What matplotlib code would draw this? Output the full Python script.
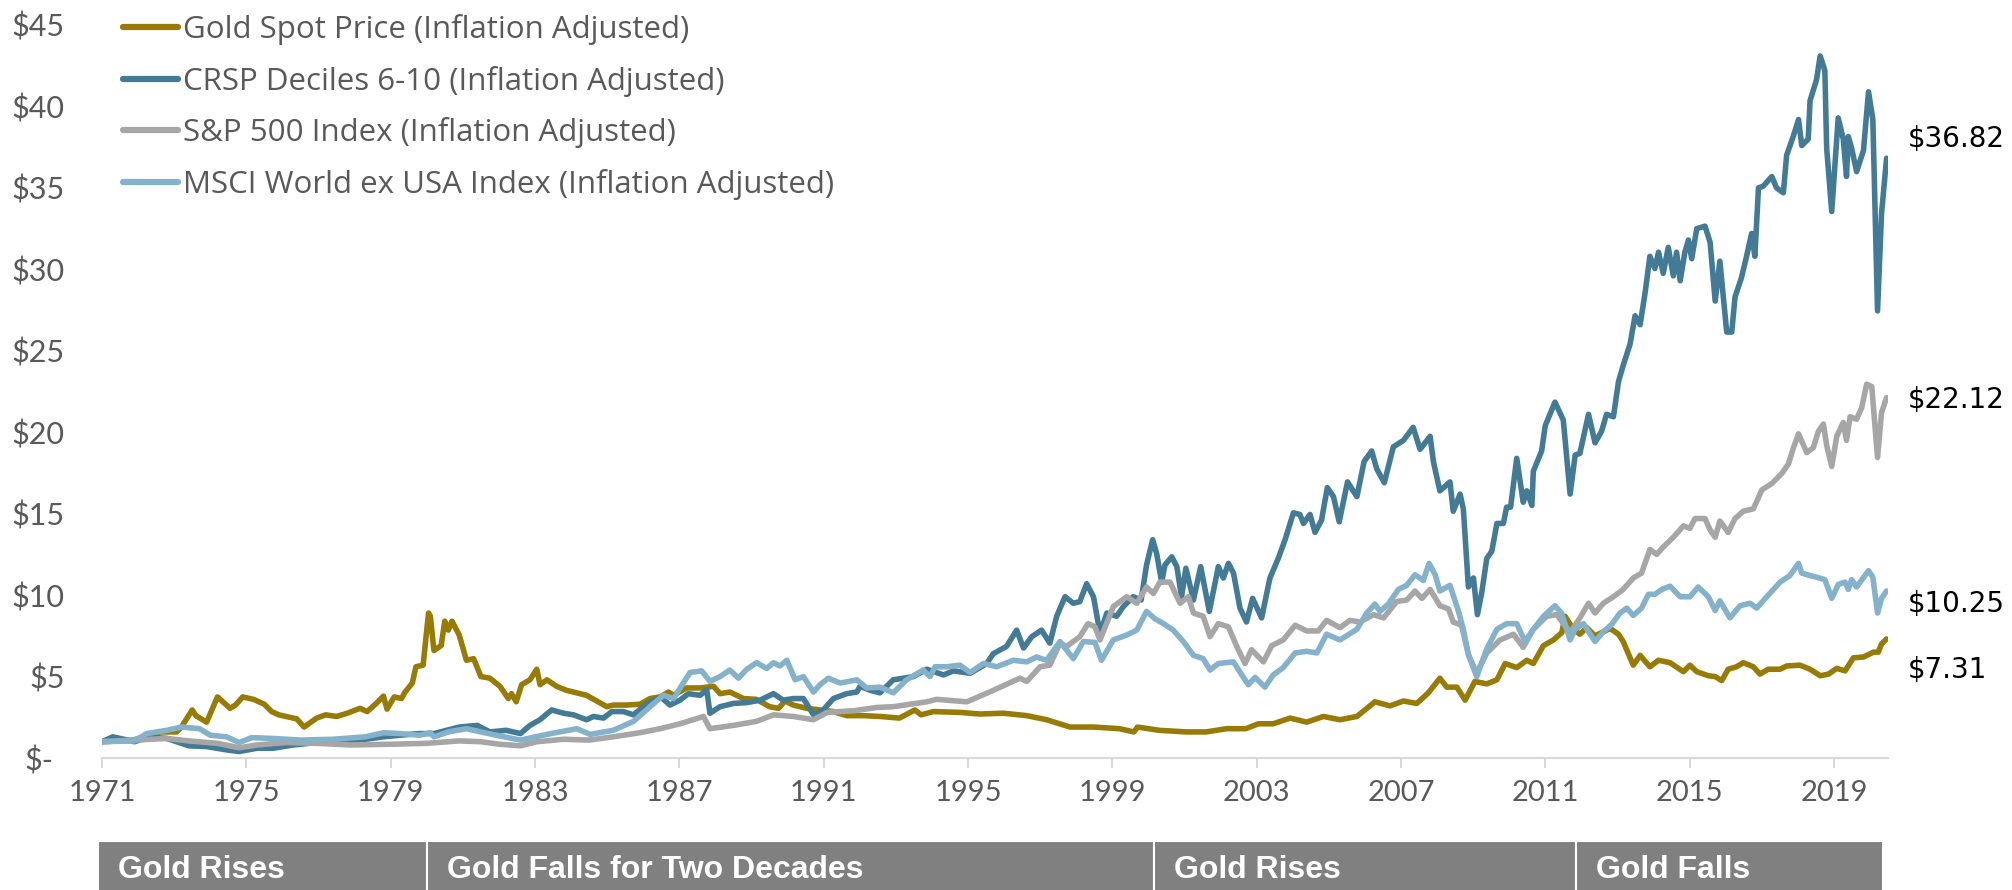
import matplotlib
matplotlib.use('Agg')
import matplotlib.pyplot as plt
import matplotlib.transforms as mtransforms
from matplotlib.patches import Rectangle

plt.rcParams['font.family'] = ['Lato', 'DejaVu Sans']

# values, growth of $1 (inflation adjusted)
goldYears = [
    1971.0, 1971.87, 1972.6, 1973.07, 1973.2, 1973.5, 1973.6, 1973.9, 1974.2, 1974.55,
    1974.7, 1974.9, 1975.2, 1975.5, 1975.7, 1975.9, 1976.1, 1976.4, 1976.6, 1976.95,
    1977.2, 1977.5, 1977.8, 1978.15, 1978.35, 1978.6, 1978.8, 1978.9, 1979.1, 1979.3,
    1979.4, 1979.6, 1979.7, 1979.9, 1980.05, 1980.1, 1980.2, 1980.4, 1980.5, 1980.6,
    1980.7, 1980.9, 1981.1, 1981.3, 1981.5, 1981.75, 1982.03, 1982.26, 1982.35, 1982.48,
    1982.63, 1982.86, 1983.05, 1983.14, 1983.33, 1983.6, 1983.88, 1984.16, 1984.43, 1984.67,
    1984.99, 1985.17, 1985.54, 1985.91, 1986.19, 1986.47, 1986.7, 1986.84, 1987.2, 1987.58,
    1987.95, 1988.13, 1988.4, 1988.78, 1989.14, 1989.5, 1989.75, 1989.93, 1990.16, 1990.53,
    1990.9, 1991.27, 1991.64, 1992.1, 1992.56, 1993.1, 1993.53, 1993.7, 1994.04, 1994.78,
    1995.33, 1995.98, 1996.63, 1997.18, 1997.83, 1998.48, 1999.2, 1999.6, 1999.7, 2000.3,
    2001.06, 2001.6, 2002.17, 2002.7, 2003.05, 2003.46, 2003.93, 2004.39, 2004.85, 2005.31,
    2005.78, 2006.28, 2006.7, 2007.07, 2007.44, 2007.76, 2008.08, 2008.27, 2008.55, 2008.78,
    2009.05, 2009.38, 2009.66, 2009.89, 2010.21, 2010.49, 2010.67, 2010.95, 2011.23, 2011.46,
    2011.55, 2011.78, 2011.96, 2012.15, 2012.38, 2012.61, 2012.8, 2013.03, 2013.16, 2013.44,
    2013.63, 2013.9, 2014.14, 2014.46, 2014.83, 2015.01, 2015.2, 2015.52, 2015.71, 2015.89,
    2016.07, 2016.3, 2016.49, 2016.77, 2016.95, 2017.18, 2017.51, 2017.69, 2018.06, 2018.34,
    2018.62, 2018.85, 2019.08, 2019.31, 2019.54, 2019.82, 2020.1, 2020.23, 2020.32, 2020.46]
goldValues = [
    1.0, 1.1, 1.6, 1.6, 1.9, 2.95, 2.6, 2.2, 3.75, 3.05,
    3.25, 3.75, 3.6, 3.3, 2.85, 2.65, 2.55, 2.4, 1.9, 2.45,
    2.65, 2.55, 2.75, 3.05, 2.85, 3.35, 3.8, 3.0, 3.75, 3.65,
    4.05, 4.6, 5.6, 5.7, 8.9, 8.7, 6.6, 6.9, 8.4, 7.85,
    8.4, 7.55, 6.0, 6.1, 5.0, 4.9, 4.4, 3.65, 3.95, 3.45,
    4.5, 4.8, 5.45, 4.5, 4.8, 4.4, 4.15, 4.0, 3.85, 3.55,
    3.15, 3.25, 3.25, 3.3, 3.65, 3.75, 4.05, 3.85, 4.3, 4.3,
    4.4, 3.95, 4.05, 3.65, 3.6, 3.15, 3.05, 3.5, 3.25, 3.05,
    2.95, 2.85, 2.6, 2.6, 2.55, 2.45, 2.95, 2.65, 2.85, 2.8,
    2.7, 2.75, 2.6, 2.35, 1.9, 1.9, 1.8, 1.6, 1.9, 1.7,
    1.6, 1.6, 1.8, 1.8, 2.1, 2.1, 2.45, 2.2, 2.55, 2.35,
    2.55, 3.45, 3.2, 3.5, 3.35, 4.0, 4.9, 4.35, 4.35, 3.55,
    4.7, 4.55, 4.8, 5.8, 5.55, 6.0, 5.8, 6.9, 7.25, 7.7,
    8.7, 7.9, 7.6, 8.0, 7.5, 7.75, 7.95, 7.6, 7.15, 5.7,
    6.3, 5.6, 6.0, 5.85, 5.3, 5.7, 5.3, 5.05, 5.0, 4.75,
    5.45, 5.6, 5.85, 5.6, 5.15, 5.45, 5.45, 5.65, 5.7, 5.45,
    5.05, 5.15, 5.5, 5.35, 6.15, 6.2, 6.5, 6.5, 7.0, 7.31]

crspYears = [
    1971.0, 1971.3, 1971.9, 1972.3, 1972.8, 1973.4, 1973.9, 1974.45, 1974.8, 1975.3,
    1975.75, 1976.3, 1976.95, 1977.6, 1978.3, 1978.8, 1979.26, 1979.8, 1980.2, 1980.9,
    1981.4, 1981.75, 1982.2, 1982.6, 1982.86, 1983.14, 1983.46, 1983.79, 1984.07, 1984.43,
    1984.62, 1984.9, 1985.13, 1985.45, 1985.73, 1986.0, 1986.28, 1986.51, 1986.74, 1987.02,
    1987.25, 1987.58, 1987.76, 1987.85, 1988.13, 1988.5, 1988.87, 1989.24, 1989.61, 1989.88,
    1990.16, 1990.44, 1990.72, 1990.99, 1991.27, 1991.64, 1991.92, 1992.01, 1992.3, 1992.56,
    1992.93, 1993.49, 1993.86, 1994.32, 1994.6, 1995.06, 1995.52, 1995.7, 1996.07, 1996.35,
    1996.54, 1996.77, 1997.04, 1997.27, 1997.46, 1997.69, 1997.92, 1998.1, 1998.29, 1998.48,
    1998.66, 1998.85, 1999.12, 1999.31, 1999.58, 1999.8, 1999.95, 2000.12, 2000.23, 2000.37,
    2000.46, 2000.65, 2000.79, 2000.92, 2001.04, 2001.25, 2001.45, 2001.69, 2001.94, 2002.08,
    2002.22, 2002.36, 2002.54, 2002.72, 2002.89, 2003.14, 2003.37, 2003.6, 2003.79, 2004.02,
    2004.2, 2004.3, 2004.48, 2004.62, 2004.8, 2004.96, 2005.13, 2005.29, 2005.52, 2005.78,
    2005.98, 2006.19, 2006.33, 2006.54, 2006.79, 2007.07, 2007.34, 2007.53, 2007.81, 2007.9,
    2008.08, 2008.36, 2008.45, 2008.64, 2008.73, 2008.87, 2009.01, 2009.12, 2009.24, 2009.38,
    2009.52, 2009.66, 2009.84, 2009.93, 2010.04, 2010.21, 2010.39, 2010.49, 2010.63, 2010.67,
    2010.9, 2011.0, 2011.27, 2011.5, 2011.69, 2011.83, 2011.96, 2012.2, 2012.38, 2012.56,
    2012.7, 2012.89, 2013.03, 2013.16, 2013.35, 2013.49, 2013.63, 2013.77, 2013.9, 2014.04,
    2014.14, 2014.27, 2014.41, 2014.55, 2014.64, 2014.74, 2014.87, 2014.97, 2015.06, 2015.2,
    2015.43, 2015.57, 2015.71, 2015.84, 2016.03, 2016.17, 2016.26, 2016.44, 2016.58, 2016.72,
    2016.81, 2016.91, 2017.04, 2017.28, 2017.41, 2017.6, 2017.69, 2017.88, 2018.02, 2018.11,
    2018.29, 2018.34, 2018.52, 2018.62, 2018.75, 2018.8, 2018.94, 2019.12, 2019.26, 2019.35,
    2019.4, 2019.49, 2019.63, 2019.82, 2019.96, 2020.08, 2020.21, 2020.32, 2020.46]
crspValues = [
    1.0, 1.3, 1.0, 1.3, 1.2, 0.75, 0.7, 0.5, 0.4, 0.6,
    0.6, 0.8, 0.95, 0.95, 1.15, 1.3, 1.4, 1.5, 1.5, 1.9,
    2.0, 1.6, 1.7, 1.5, 2.0, 2.35, 2.95, 2.75, 2.65, 2.35,
    2.55, 2.45, 2.85, 2.85, 2.65, 3.15, 3.55, 3.7, 3.25, 3.55,
    3.95, 3.85, 4.2, 2.75, 3.15, 3.35, 3.4, 3.55, 3.95, 3.55,
    3.65, 3.65, 2.65, 2.95, 3.65, 3.95, 4.05, 4.4, 4.15, 4.0,
    4.8, 5.0, 5.45, 5.1, 5.35, 5.2, 5.8, 6.4, 6.85, 7.85,
    6.75, 7.45, 7.85, 7.05, 8.7, 9.9, 9.5, 9.6, 10.7, 9.9,
    7.65, 8.9, 8.7, 9.3, 9.9, 9.7, 11.85, 13.4, 12.55, 10.8,
    11.85, 12.35, 11.75, 9.9, 11.65, 9.7, 11.75, 9.0, 11.75, 11.05,
    11.95, 11.35, 9.2, 8.35, 9.8, 8.6, 11.05, 12.25, 13.4, 15.05,
    14.95, 14.4, 14.95, 13.85, 14.6, 16.6, 16.05, 14.5, 16.95, 16.05,
    18.2, 18.85, 17.75, 16.9, 19.1, 19.5, 20.3, 18.95, 19.75, 18.2,
    16.4, 16.95, 15.15, 16.2, 15.3, 10.5, 11.05, 8.8, 10.15, 12.25,
    12.7, 14.4, 14.4, 15.4, 15.4, 18.4, 15.7, 16.4, 15.5, 17.6,
    18.85, 20.4, 21.85, 20.75, 16.2, 18.6, 18.7, 21.1, 19.35, 20.05,
    21.1, 20.95, 23.1, 24.1, 25.4, 27.15, 26.6, 28.6, 30.8, 30.05,
    31.05, 29.75, 31.35, 29.6, 31.05, 29.3, 31.05, 31.8, 30.65, 32.5,
    32.65, 31.65, 28.05, 30.5, 26.15, 26.15, 28.3, 29.5, 30.8, 32.2,
    30.8, 35.0, 35.1, 35.7, 35.0, 34.7, 37.0, 38.2, 39.2, 37.6,
    38.0, 40.35, 41.65, 43.1, 42.2, 37.45, 33.55, 39.3, 38.0, 35.7,
    38.15, 37.45, 36.0, 37.3, 40.9, 39.2, 27.45, 33.4, 36.82]

spYears = [
    1971.0, 1971.9, 1972.8, 1973.4, 1974.2, 1974.8, 1975.3, 1976.1, 1976.95, 1977.9,
    1979.1, 1980.0, 1980.9, 1981.5, 1982.0, 1982.6, 1983.05, 1983.8, 1984.5, 1985.17,
    1985.9, 1986.47, 1987.02, 1987.67, 1987.85, 1988.5, 1989.14, 1989.61, 1990.16, 1990.72,
    1991.1, 1991.83, 1992.47, 1992.93, 1993.86, 1994.13, 1994.97, 1995.7, 1996.44, 1996.63,
    1997.0, 1997.27, 1997.55, 1997.74, 1998.1, 1998.33, 1998.52, 1998.66, 1999.03, 1999.4,
    1999.68, 1999.95, 2000.14, 2000.32, 2000.6, 2000.88, 2001.11, 2001.25, 2001.52, 2001.71,
    2001.94, 2002.22, 2002.45, 2002.68, 2002.86, 2003.19, 2003.42, 2003.74, 2004.07, 2004.39,
    2004.71, 2004.94, 2005.31, 2005.59, 2005.87, 2006.24, 2006.52, 2006.88, 2007.16, 2007.39,
    2007.58, 2007.81, 2008.08, 2008.32, 2008.45, 2008.68, 2008.87, 2009.1, 2009.38, 2009.75,
    2010.12, 2010.39, 2010.67, 2011.04, 2011.32, 2011.69, 2011.96, 2012.2, 2012.38, 2012.61,
    2012.89, 2013.16, 2013.44, 2013.67, 2013.9, 2014.09, 2014.27, 2014.55, 2014.83, 2015.01,
    2015.15, 2015.43, 2015.57, 2015.71, 2015.84, 2016.07, 2016.26, 2016.49, 2016.77, 2017.0,
    2017.28, 2017.55, 2017.74, 2017.88, 2018.02, 2018.25, 2018.43, 2018.57, 2018.71, 2018.8,
    2018.94, 2019.08, 2019.26, 2019.35, 2019.45, 2019.63, 2019.77, 2019.91, 2020.05, 2020.21,
    2020.32, 2020.46]
spValues = [
    1.0, 1.1, 1.2, 1.05, 0.9, 0.63, 0.8, 0.95, 0.9, 0.8,
    0.85, 0.9, 1.05, 1.0, 0.85, 0.75, 1.0, 1.15, 1.1, 1.3,
    1.55, 1.8, 2.1, 2.55, 1.8, 2.0, 2.25, 2.65, 2.55, 2.35,
    2.8, 2.9, 3.1, 3.15, 3.45, 3.6, 3.45, 4.15, 4.9, 4.7,
    5.6, 5.7, 7.05, 6.85, 7.45, 8.25, 8.05, 7.25, 9.3, 9.9,
    9.5, 10.5, 10.1, 10.8, 10.8, 9.5, 9.9, 8.9, 8.7, 7.45,
    8.25, 8.05, 6.85, 5.8, 6.65, 5.9, 6.9, 7.25, 8.15, 7.8,
    7.8, 8.45, 8.0, 8.45, 8.35, 8.8, 8.6, 9.6, 9.7, 10.25,
    9.8, 10.35, 9.35, 9.15, 8.35, 8.15, 6.35, 5.2, 6.45, 7.25,
    7.6, 6.8, 7.9, 8.7, 8.8, 7.7, 8.6, 9.5, 8.9, 9.5,
    9.9, 10.35, 11.05, 11.35, 12.8, 12.5, 12.95, 13.55, 14.25, 14.1,
    14.7, 14.7, 14.0, 13.55, 14.55, 13.85, 14.7, 15.15, 15.3, 16.45,
    16.85, 17.45, 18.05, 19.05, 19.9, 18.75, 19.05, 20.05, 20.5, 19.2,
    17.9, 19.75, 20.6, 19.5, 20.95, 20.8, 21.5, 22.95, 22.8, 18.45,
    21.2, 22.12]

msciYears = [
    1971.0, 1971.9, 1972.24, 1972.8, 1973.2, 1973.7, 1974.0, 1974.45, 1974.8, 1975.15,
    1975.75, 1976.5, 1977.4, 1978.3, 1978.8, 1979.26, 1979.8, 1980.1, 1980.2, 1980.6,
    1981.1, 1981.5, 1982.03, 1982.6, 1983.33, 1984.16, 1984.53, 1985.17, 1985.73, 1986.19,
    1986.56, 1986.84, 1987.11, 1987.3, 1987.62, 1987.85, 1988.13, 1988.4, 1988.64, 1988.87,
    1989.14, 1989.42, 1989.61, 1989.79, 1989.98, 1990.21, 1990.44, 1990.72, 1990.9, 1991.13,
    1991.46, 1991.92, 1992.2, 1992.56, 1992.93, 1993.3, 1993.76, 1993.95, 1994.09, 1994.41,
    1994.78, 1995.06, 1995.43, 1995.8, 1996.26, 1996.63, 1996.9, 1997.18, 1997.55, 1997.92,
    1998.2, 1998.52, 1998.7, 1999.03, 1999.4, 1999.68, 1999.95, 2000.18, 2000.42, 2000.69,
    2000.97, 2001.25, 2001.52, 2001.71, 2001.94, 2002.36, 2002.59, 2002.77, 2002.96, 2003.23,
    2003.46, 2003.74, 2004.07, 2004.39, 2004.67, 2004.94, 2005.31, 2005.78, 2006.05, 2006.28,
    2006.42, 2006.65, 2006.93, 2007.16, 2007.39, 2007.62, 2007.78, 2007.95, 2008.08, 2008.36,
    2008.59, 2008.73, 2008.87, 2009.1, 2009.38, 2009.66, 2009.93, 2010.21, 2010.44, 2010.67,
    2010.95, 2011.27, 2011.45, 2011.69, 2011.83, 2012.06, 2012.38, 2012.61, 2012.84, 2013.07,
    2013.26, 2013.44, 2013.67, 2013.86, 2014.04, 2014.23, 2014.46, 2014.74, 2015.01, 2015.24,
    2015.52, 2015.71, 2015.84, 2016.12, 2016.4, 2016.68, 2016.86, 2017.14, 2017.51, 2017.78,
    2018.02, 2018.11, 2018.34, 2018.52, 2018.75, 2018.94, 2019.12, 2019.31, 2019.4, 2019.49,
    2019.63, 2019.96, 2020.08, 2020.21, 2020.32, 2020.46]
msciValues = [
    1.0, 1.05, 1.5, 1.7, 1.9, 1.8, 1.4, 1.3, 0.95, 1.25,
    1.2, 1.1, 1.15, 1.3, 1.55, 1.5, 1.4, 1.55, 1.3, 1.6,
    1.8, 1.6, 1.35, 1.1, 1.45, 1.8, 1.45, 1.7, 2.25, 3.15,
    3.85, 3.65, 4.6, 5.25, 5.35, 4.7, 5.0, 5.4, 4.9, 5.45,
    5.85, 5.5, 5.85, 5.65, 6.0, 4.8, 5.0, 4.05, 4.5, 4.9,
    4.6, 4.8, 4.3, 4.35, 4.0, 4.8, 5.4, 5.0, 5.6, 5.6,
    5.7, 5.25, 5.8, 5.6, 6.0, 5.9, 6.2, 6.0, 7.15, 6.1,
    7.15, 7.1, 6.0, 7.25, 7.55, 7.85, 9.0, 8.55, 8.25, 7.85,
    7.15, 6.3, 6.1, 5.4, 5.8, 5.9, 5.1, 4.5, 4.95, 4.35,
    5.1, 5.55, 6.45, 6.55, 6.45, 7.6, 7.25, 7.9, 8.9, 9.45,
    9.0, 9.45, 10.35, 10.6, 11.25, 10.9, 11.95, 11.25, 10.25, 10.6,
    9.05, 7.9, 6.35, 5.0, 6.7, 7.9, 8.25, 8.25, 7.15, 7.9,
    8.7, 9.35, 8.9, 7.25, 7.9, 8.25, 7.15, 7.75, 8.2, 8.9,
    9.2, 8.75, 9.2, 10.05, 10.05, 10.35, 10.55, 9.9, 9.9, 10.5,
    9.9, 9.05, 9.65, 8.6, 9.35, 9.5, 9.2, 9.9, 10.8, 11.2,
    11.95, 11.35, 11.2, 11.1, 10.95, 9.8, 10.65, 10.8, 10.35, 10.95,
    10.5, 11.5, 11.1, 8.9, 9.8, 10.25]

seriesNames = ['Gold Spot Price (Inflation Adjusted)', 'CRSP Deciles 6-10 (Inflation Adjusted)',
               'S&P 500 Index (Inflation Adjusted)', 'MSCI World ex USA Index (Inflation Adjusted)']
seriesColors = ['#977B05', '#437A96', '#A6A6A6', '#84B2CA']
endLabels = ['$36.82', '$22.12', '$10.25', '$7.31']

xTicks = list(range(1971, 2020, 4))
yTicks = list(range(0, 50, 5))
yTickLabels = ['$-'] + ['$' + str(v) for v in yTicks[1:]]

phaseNames = ['Gold Rises', 'Gold Falls for Two Decades', 'Gold Rises', 'Gold Falls']
phaseBounds = [1970.9, 1980.0, 2000.15, 2011.85, 2020.35]


fig = plt.figure(figsize=(20.12, 8.9), dpi=100)
ax = fig.add_axes([102 / 2012, 132 / 890, 1786 / 2012, 733 / 890])

allSeries = [(goldYears, goldValues), (crspYears, crspValues), (spYears, spValues), (msciYears, msciValues)]
for (years, values), name, color in zip(allSeries, seriesNames, seriesColors):
    ax.plot(years, values, color=color, lw=4.0, label=name,
            solid_joinstyle='round', solid_capstyle='round')

ax.set_xlim(1971, 2020.5)
ax.set_ylim(0, 45)
ax.set_xticks(xTicks)
ax.set_xticklabels([str(t) for t in xTicks])
ax.set_yticks(yTicks)
ax.set_yticklabels([l.replace('$', '\\$') for l in yTickLabels])
for side in ['top', 'right', 'left']:
    ax.spines[side].set_visible(False)
ax.spines['bottom'].set_color('#D9D9D9')
ax.spines['bottom'].set_linewidth(1.5)
ax.tick_params(axis='x', length=7, width=1.5, color='#D9D9D9', labelsize=21, labelcolor='#595959', pad=9)
ax.tick_params(axis='y', length=0, labelsize=22, labelcolor='#595959', pad=27)

# the "$-" label sits a little left of the others (accounting format)
zeroLabel = ax.yaxis.get_major_ticks()[0].label1
zeroLabel.set_transform(zeroLabel.get_transform() + mtransforms.ScaledTranslation(-0.11, 0, fig.dpi_scale_trans))

leg = ax.legend(loc='upper left', bbox_to_anchor=(123 / 2012, 1 - 14 / 890), bbox_transform=fig.transFigure,
                frameon=False, handlelength=1.76, handletextpad=0.16, labelspacing=0.66,
                borderpad=0, borderaxespad=0, prop={'family': 'Open Sans', 'size': 22.5})
for t in leg.get_texts():
    t.set_color('#595959')
for line in leg.get_lines():
    line.set_linewidth(4.5)

# end-of-series value labels, nudged apart like the original
labelY = [38.0, 22.0, 9.45, 5.4]
for text, y in zip(endLabels, labelY):
    ax.text(2021.05, y, text.replace('$', '\\$'), fontsize=20, family='DejaVu Sans', color='black',
            va='center', ha='left', clip_on=False)

# phase bar under the axis
trans = mtransforms.blended_transform_factory(ax.transData, fig.transFigure)
for i, name in enumerate(phaseNames):
    x0, x1 = phaseBounds[i], phaseBounds[i + 1]
    ax.add_patch(Rectangle((x0, -0.01), x1 - x0, 0.065, transform=trans, facecolor='#808080',
                           edgecolor='white', lw=1.5, clip_on=False))
    ax.text(x0 + 0.55, 20 / 890, name, transform=trans, color='white', fontsize=23, fontweight='bold',
            family='Liberation Sans', va='center', ha='left')

fig.savefig('out.png', dpi=100)
